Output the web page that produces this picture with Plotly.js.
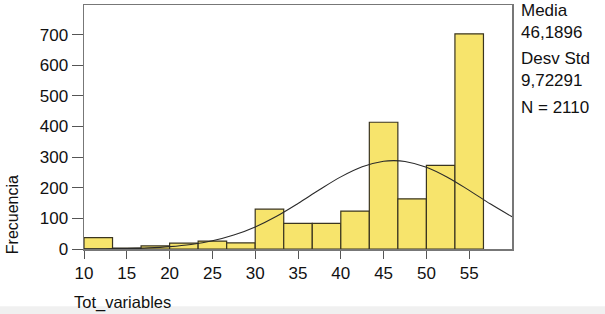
<!DOCTYPE html>
<html>
<head>
<meta charset="utf-8">
<script src="https://cdn.plot.ly/plotly-3.0.1.min.js"></script>
<style>html,body{margin:0;padding:0;background:#fff;}#chart{width:605px;height:314px;}</style>
</head>
<body>
<div id="chart"></div>
<script>
// Histogram bins (left edges), width 10/3
var binLeft = [10, 13.333, 16.667, 20, 23.333, 26.667, 30, 33.333, 36.667, 40, 43.333, 46.667, 50, 53.333];
var counts  = [37, 3, 10, 19, 26, 20, 130, 84, 84, 124, 414, 164, 273, 703];
var binWidth = 10 / 3;

// Normal curve points
var curveX = [10, 12.5, 15, 17.5, 20, 22.5, 25, 27.5, 30, 32.5, 35, 37.5, 40, 42.5, 45, 46.19, 47.5, 50, 52.5, 55, 57.5, 60];
var curveY = [0.3, 0.7, 1.7, 3.7, 7.7, 14.8, 26.8, 45.5, 72.2, 107.1, 148.8, 193.6, 235.6, 268.6, 286.5, 288.6, 286.0, 267.3, 233.8, 191.4, 146.7, 105.3];

var xTicks = [10, 15, 20, 25, 30, 35, 40, 45, 50, 55];
var yTicks = [0, 100, 200, 300, 400, 500, 600, 700];

var statsLabels = ["Media", "46,1896", "Desv Std", "9,72291", "N = 2110"];
var statsY = [0.979, 0.889, 0.779, 0.689, 0.578];

var font = "Liberation Sans, Arial, Helvetica, sans-serif";

var traces = [
  {
    type: "bar",
    x: binLeft,
    y: counts,
    width: binWidth,
    offset: 0,
    marker: {color: "#F7E46C", line: {color: "#3a3520", width: 1.2}},
    hoverinfo: "x+y"
  },
  {
    type: "scatter",
    mode: "lines",
    x: curveX,
    y: curveY,
    line: {color: "#2a2a2a", width: 1.1, shape: "spline"},
    hoverinfo: "skip"
  }
];

var annotations = statsLabels.map(function (t, i) {
  return {
    text: t, xref: "paper", yref: "paper", x: 1.0164, y: statsY[i],
    xanchor: "left", yanchor: "middle", showarrow: false,
    font: {family: font, size: 17, color: "#111"}
  };
});
annotations.push({
  text: "Frecuencia", xref: "paper", yref: "paper", x: -0.168, y: 0.139,
  xanchor: "center", yanchor: "middle", textangle: -90, showarrow: false,
  font: {family: "Liberation Sans Narrow, Arial Narrow, Liberation Sans, sans-serif", size: 16, color: "#111"}
});
annotations.push({
  text: "Tot_variables", xref: "paper", yref: "paper", x: -0.027, y: -0.22,
  xanchor: "left", yanchor: "middle", showarrow: false,
  font: {family: font, size: 16.5, color: "#111"}
});

var layout = {
  width: 605, height: 314,
  margin: {l: 84, r: 93, t: 5, b: 65, pad: 0},
  paper_bgcolor: "#ffffff",
  plot_bgcolor: "#ffffff",
  showlegend: false,
  bargap: 0,
  font: {family: font, size: 15, color: "#111"},
  xaxis: {
    range: [10, 60],
    tickmode: "array", tickvals: xTicks, ticktext: xTicks.map(String),
    ticks: "outside", ticklen: 8, tickcolor: "#555", tickwidth: 1,
    showline: true, linecolor: "#777", linewidth: 1.5, mirror: true,
    showgrid: false, zeroline: false,
    tickfont: {family: font, size: 17, color: "#111"}
  },
  yaxis: {
    range: [0, 797],
    tickmode: "array", tickvals: yTicks, ticktext: yTicks.map(String),
    ticks: "outside", ticklen: 11, tickcolor: "#555", tickwidth: 1,
    showline: true, linecolor: "#777", linewidth: 1.5, mirror: true,
    showgrid: false, zeroline: false,
    tickfont: {family: font, size: 17, color: "#111"}
  },
  shapes: [{
    type: "rect", xref: "paper", yref: "paper", layer: "below",
    x0: -0.2, x1: 1.22, y0: -0.235, y1: -0.27,
    fillcolor: "#f0f0f0", line: {width: 0}
  }],
  annotations: annotations
};

Plotly.newPlot("chart", traces, layout, {displayModeBar: false, staticPlot: true});
</script>
</body>
</html>
